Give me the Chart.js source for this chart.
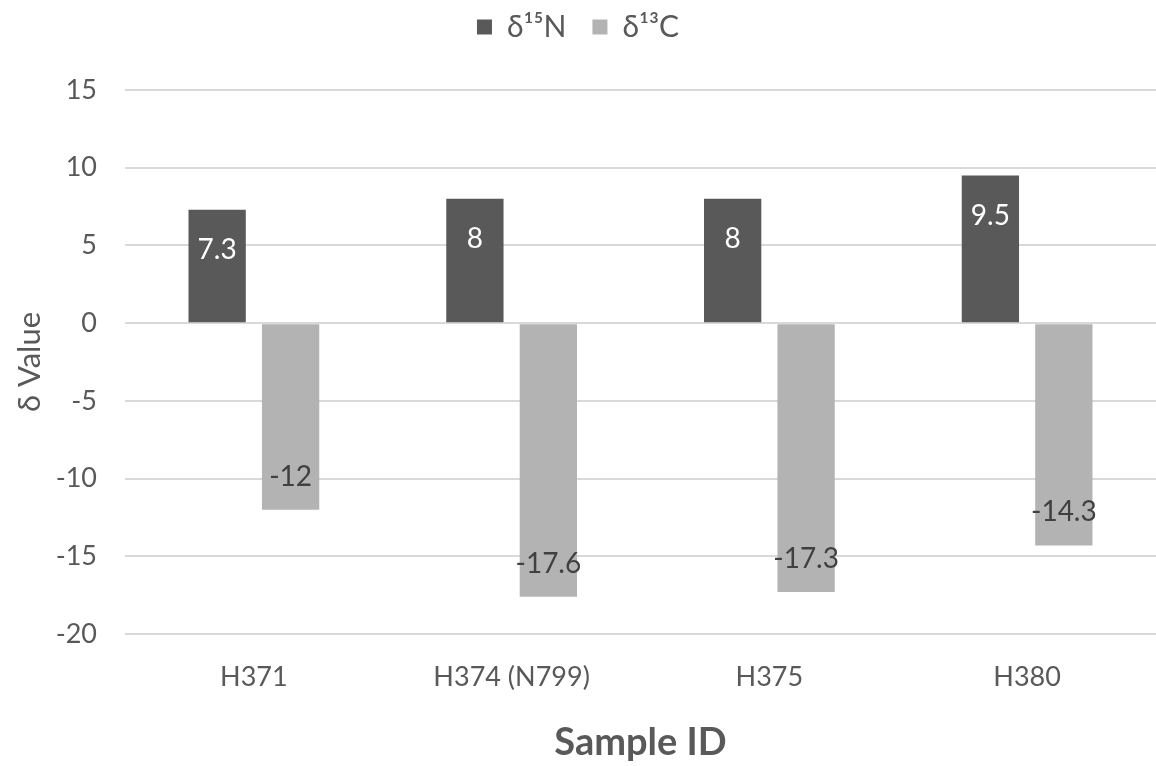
<!DOCTYPE html>
<html lang="en">
<head>
    <script src="https://cdn.jsdelivr.net/npm/chart.js"></script>
    <style>
        body { margin: 0; background: #fff; }
        #wrap { width: 1156px; height: 766px; }
    </style>
</head>
<body>
    <div id="wrap"><canvas id="isotopeChart"></canvas></div>

    <script>
        // sample ids and isotope values
        const samples = ["H371", "H374 (N799)", "H375", "H380"];
        const nitrogen = [7.3, 8, 8, 9.5];
        const carbon = [-12, -17.6, -17.3, -14.3];
        const yTicks = [15, 10, 5, 0, -5, -10, -15, -20];

        const fontFamily = "Lato, 'Open Sans', sans-serif";

        // draws the value labels just inside the bar end, like Excel's "inside end"
        const insideEndLabels = {
            id: 'insideEndLabels',
            afterDatasetsDraw(chart) {
                const c = chart.ctx;
                chart.data.datasets.forEach((ds, i) => {
                    const meta = chart.getDatasetMeta(i);
                    meta.data.forEach((bar, j) => {
                        const v = ds.data[j];
                        const y = v >= 0 ? bar.y + ds.labelOffset : bar.y - ds.labelOffset;
                        c.save();
                        c.font = "28px " + fontFamily;
                        c.fillStyle = ds.labelColor;
                        c.textAlign = 'center';
                        c.textBaseline = 'middle';
                        c.fillText(String(v), bar.x, y);
                        c.restore();
                    });
                });
            }
        };

        // extra room between the legend and the plot
        const legendGap = {
            id: 'legendGap',
            beforeInit(chart) {
                const fit = chart.legend.fit;
                chart.legend.fit = function () {
                    fit.bind(chart.legend)();
                    this.height += 38;
                };
            }
        };

        const ctx = document.getElementById('isotopeChart').getContext('2d');
        const chart = new Chart(ctx, {
            type: 'bar',
            data: {
                labels: samples,
                datasets: [
                    {
                        label: 'δ¹⁵N',
                        data: nitrogen,
                        backgroundColor: '#595959',
                        labelColor: '#ffffff',
                        labelOffset: 40,
                        categoryPercentage: 0.57,
                        barPercentage: 0.78
                    },
                    {
                        label: 'δ¹³C',
                        data: carbon,
                        backgroundColor: '#b3b3b3',
                        labelColor: '#404040',
                        labelOffset: 33,
                        categoryPercentage: 0.57,
                        barPercentage: 0.78
                    }
                ]
            },
            options: {
                responsive: true,
                maintainAspectRatio: false,
                animation: false,
                layout: { padding: { top: -14, right: 0, left: 0, bottom: 0 } },
                scales: {
                    x: {
                        afterFit: (axis) => { axis.height = 132; },
                        grid: { display: false },
                        border: { display: false },
                        ticks: { color: '#595959', font: { size: 27, family: fontFamily }, padding: 19 },
                        title: {
                            display: true,
                            text: 'Sample ID',
                            color: '#595959',
                            font: { size: 38, weight: 'bold', family: fontFamily },
                            padding: { top: 10, bottom: 0 }
                        }
                    },
                    y: {
                        min: -20,
                        max: 15,
                        afterBuildTicks: (axis) => { axis.ticks = yTicks.map(v => ({ value: v })); },
                        afterFit: (axis) => { axis.width = 125; },
                        grid: { color: '#d9d9d9', lineWidth: 2, drawTicks: false },
                        border: { display: false },
                        ticks: { color: '#595959', font: { size: 27, family: fontFamily }, padding: 28 },
                        title: {
                            display: true,
                            text: 'δ Value',
                            color: '#595959',
                            font: { size: 31, family: fontFamily },
                            padding: { top: 11, bottom: 0 }
                        }
                    }
                },
                plugins: {
                    legend: {
                        position: 'top',
                        labels: {
                            color: '#595959',
                            font: { size: 30, family: fontFamily },
                            boxWidth: 15,
                            boxHeight: 15,
                            padding: 26
                        }
                    },
                    tooltip: { enabled: false }
                }
            },
            plugins: [insideEndLabels, legendGap]
        });
    </script>
</body>
</html>
